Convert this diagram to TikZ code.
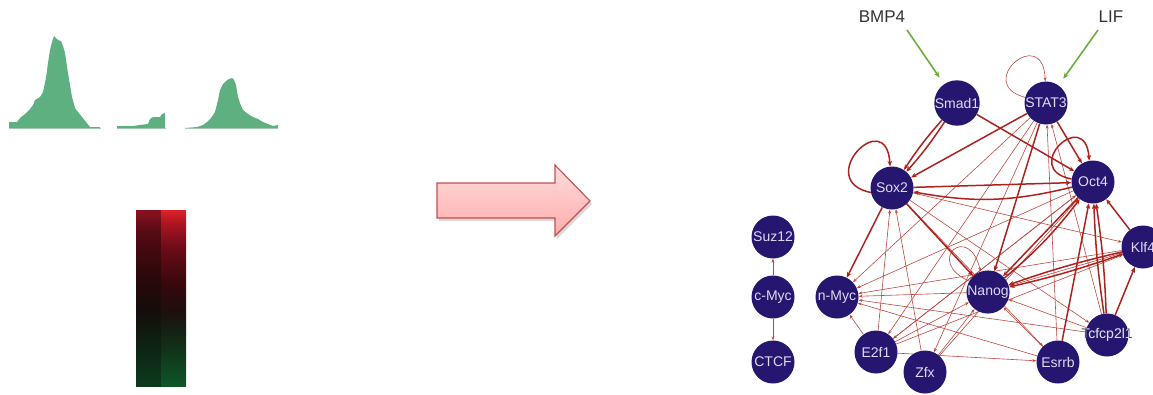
\documentclass[tikz,border=0pt]{standalone}
\usepackage{fontspec}
\setmainfont{Liberation Sans}
\newfontfamily\labelfont{Liberation Sans}
\usetikzlibrary{arrows.meta,shadows}

\pgfdeclarelayer{edges}
\pgfsetlayers{edges,main}

\definecolor{histgreen}{RGB}{94,176,128}
\definecolor{histbase}{RGB}{170,205,185}
\definecolor{nodeblue}{RGB}{38,22,112}
\definecolor{nodetext}{RGB}{222,218,242}
\definecolor{spilltext}{RGB}{90,90,100}
\definecolor{edgered}{RGB}{172,34,30}
\definecolor{thinred}{RGB}{190,72,64}
\definecolor{sigreen}{RGB}{110,172,60}
\definecolor{arrowline}{RGB}{192,80,77}
\definecolor{arrowtop}{RGB}{255,220,220}
\definecolor{arrowbot}{RGB}{255,172,172}
% heat map column colours (top to bottom)
\definecolor{hrA}{RGB}{220,34,40}
\definecolor{hrB}{RGB}{170,20,34}
\definecolor{hrC}{RGB}{105,12,24}
\definecolor{hrD}{RGB}{55,8,12}
\definecolor{hrE}{RGB}{28,16,12}
\definecolor{hrF}{RGB}{18,42,22}
\definecolor{hrG}{RGB}{14,86,40}
\definecolor{hlA}{RGB}{140,18,34}
\definecolor{hlB}{RGB}{85,10,20}
\definecolor{hlC}{RGB}{42,8,10}
\definecolor{hlD}{RGB}{22,12,10}
\definecolor{hlE}{RGB}{14,32,18}
\definecolor{hlF}{RGB}{12,58,28}

\pgfdeclareverticalshading{heatright}{100bp}{color(0bp)=(hrG); color(25bp)=(hrG);
  color(38bp)=(hrF); color(46bp)=(hrE); color(54bp)=(hrD); color(64bp)=(hrC);
  color(71bp)=(hrB); color(75bp)=(hrA); color(100bp)=(hrA)}
\pgfdeclareverticalshading{heatleft}{100bp}{color(0bp)=(hlF); color(25bp)=(hlF);
  color(38bp)=(hlE); color(47bp)=(hlD); color(56bp)=(hlC); color(69bp)=(hlB);
  color(75bp)=(hlA); color(100bp)=(hlA)}

\tikzset{
  gene/.style={circle, fill=nodeblue, minimum size=43pt, inner sep=0pt,
    text=nodetext, font=\labelfont\fontsize{14}{15}\selectfont},
  signal/.style={font=\labelfont\fontsize{17}{18}\selectfont, text=black!80},
  strong/.style={draw=edgered, line width=1.5pt, -{Stealth[length=5.5pt,width=4.5pt]}},
  weak/.style={draw=thinred, line width=0.6pt, -{Stealth[length=4pt,width=3pt]}},
  sigarrow/.style={draw=sigreen, line width=1.6pt, -{Stealth[length=6pt,width=5pt]}},
  hist/.style={fill=histgreen, draw=none},
}

\begin{document}
\begin{tikzpicture}[x=1pt,y=-1pt]
\useasboundingbox (0,0) rectangle (1153,394);

% ---- read-coverage profiles ----
\draw[histbase, line width=1.2pt] (9,128.5) -- (101,128.5);
\draw[histbase, line width=1.2pt] (117,128.5) -- (166,128.5);
\draw[histbase, line width=1.2pt] (185,128.5) -- (278,128.5);
\fill[hist] (9,128) -- (9,122) -- (17,122) -- (20,118) -- (25,114) -- (30,109) -- (33,105)
  -- (35,100) -- (40,97) -- (43,92) -- (46,78) -- (48,63) -- (50,50) -- (52,42) -- (54,36)
  -- (56,38) -- (58,40) -- (61,41) -- (63,46) -- (65,53) -- (68,73) -- (70,85) -- (72,97)
  -- (75,108) -- (78,112) -- (82,117) -- (86,122) -- (90,127) -- (100,127) -- (100,128) -- cycle;
\fill[hist] (117,128) -- (117,126) -- (133,126) -- (140,125) -- (148,124) -- (150,119)
  -- (153,117) -- (160,117) -- (162,114) -- (165,113) -- (165,128) -- cycle;
\fill[hist] (185,128) -- (197,127) -- (203,125) -- (207,122) -- (211,118) -- (215,112)
  -- (218,100) -- (220,90) -- (223,84) -- (226,81) -- (229,79) -- (232,78) -- (234,80)
  -- (236,85) -- (238,97) -- (241,106) -- (243,110) -- (248,114) -- (253,117) -- (258,119)
  -- (263,122) -- (268,124) -- (273,126) -- (278,125) -- (278,128) -- cycle;

% ---- expression heat map ----
\shade[shading=heatleft] (136,210) rectangle (161.5,386);
\shade[shading=heatright] (161,210) rectangle (186,386);

% ---- block arrow ----
\draw[arrowline, line width=1.1pt, top color=arrowtop, bottom color=arrowbot,
  drop shadow={opacity=0.3, shadow xshift=2pt, shadow yshift=-3pt}]
  (437,183) -- (555,183) -- (555,165) -- (590,201) -- (555,236) -- (555,218) -- (437,218) -- cycle;

% ---- regulatory network ----
\node[signal] (bmp) at (882,17) {BMP4};
\node[signal] (lif) at (1111,17) {LIF};
\coordinate (bmpfoot) at (907,30);
\coordinate (liffoot) at (1098,30);

\node[gene] (smad)  at (957,103)  {Smad1};
\node[gene] (stat)  at (1046,103) {STAT3};
\node[gene] (sox)   at (892,188)  {Sox2};
\node[gene] (oct)   at (1093,182) {Oct4};
\node[gene] (klf)   at (1143,247) {Klf4};
\node[gene] (nanog) at (988,292)  {Nanog};
\node[gene] (nmyc)  at (837,297)  {n-Myc};
\node[gene] (efo)   at (876,352)  {E2f1};
\node[gene] (zfx)   at (925,372)  {Zfx};
\node[gene] (esrrb) at (1058,362) {Esrrb};
\node[gene] (tcf)   at (1107,335) {};
\node[gene] (suz)   at (773,237)  {Suz12};
\node[gene] (cmyc)  at (773,297)  {c-Myc};
\node[gene] (ctcf)  at (773,362)  {CTCF};

% the long Tcfcp2l1 label spills past its disc: grey outside, light inside
\node[gene, fill=none, text=spilltext] at (tcf) {Tcfcp2l1};
\begin{scope}
  \clip (tcf.center) circle (21.5pt);
  \node[gene, fill=none] at (tcf) {Tcfcp2l1};
\end{scope}

\begin{pgfonlayer}{edges}
% thin interactions
\draw[weak] (stat.165) .. controls +(-52,-14) and +(-2,-58) .. (stat.92);
\draw[weak] (nanog.150) .. controls +(-45,-20) and +(-12,-50) .. (nanog.110);
\draw[weak] (stat) -- (nmyc);
\draw[weak] (stat) -- (efo);
\draw[weak] (stat) -- (zfx);
\draw[weak] (tcf) -- (stat);
\draw[weak] (esrrb) -- (stat);
\draw[weak] (efo) -- (sox);
\draw[weak] (zfx) -- (sox);
\draw[weak] (sox) -- (esrrb);
\draw[weak] (sox) -- (tcf);
\draw[weak] (sox) -- (klf);
\draw[weak] (oct) -- (nmyc);
\draw[weak] (oct) -- (efo);
\draw[weak] (zfx) -- (oct);
\draw[weak] (nanog) -- (nmyc);
\draw[weak] (tcf) -- (nanog);
\draw[weak] (esrrb) -- (nanog);
\draw[weak] (efo) -- (nanog);
\draw[weak] (zfx) -- (nanog);
\draw[weak] (nanog) -- (klf);
\draw[weak] (efo) -- (nmyc);
\draw[weak] (klf) -- (nmyc);
\draw[weak] (tcf) -- (nmyc);
\draw[weak] (esrrb) -- (nmyc);
\draw[weak] (efo) -- (esrrb);
\draw[weak] (efo) -- (klf);
\draw[weak] (efo) -- (oct);
\draw[weak] (cmyc) -- (suz);
\draw[weak] (cmyc) -- (ctcf);

% strong interactions
\draw[strong] (sox.192) .. controls +(-58,-12) and +(-4,-62) .. (sox.95);
\draw[strong] (oct.172) .. controls +(-52,-10) and +(-4,-55) .. (oct.100);
\draw[strong] (smad) to[bend left=4] (sox);
\draw[strong] (smad) to[bend right=4] (sox);
\draw[strong] (smad) -- (oct);
\draw[strong] (stat) -- (sox);
\draw[strong] (stat) -- (oct);
\draw[strong] (stat) -- (nanog);
\draw[strong] (sox) -- (oct);
\draw[strong] (oct) to[bend left=12] (sox);
\draw[strong] (sox) -- (nanog);
\draw[strong] (sox) -- (nmyc);
\draw[strong] (oct) -- (nanog);
\draw[strong] (nanog) to[bend right=6] (oct);
\draw[strong] (klf) -- (oct);
\draw[strong] (klf) to[bend left=3] (nanog);
\draw[strong] (klf) to[bend right=3] (nanog);
\draw[strong] (esrrb) -- (oct);
\draw[strong] (tcf) to[bend left=3] (oct);
\draw[strong] (tcf) to[bend right=3] (oct);
\draw[strong] (tcf) -- (klf);
\end{pgfonlayer}

% external signals
\draw[sigarrow, shorten >=8pt] (bmpfoot) -- (smad);
\draw[sigarrow, shorten >=8pt] (liffoot) -- (stat);
\end{tikzpicture}
\end{document}
